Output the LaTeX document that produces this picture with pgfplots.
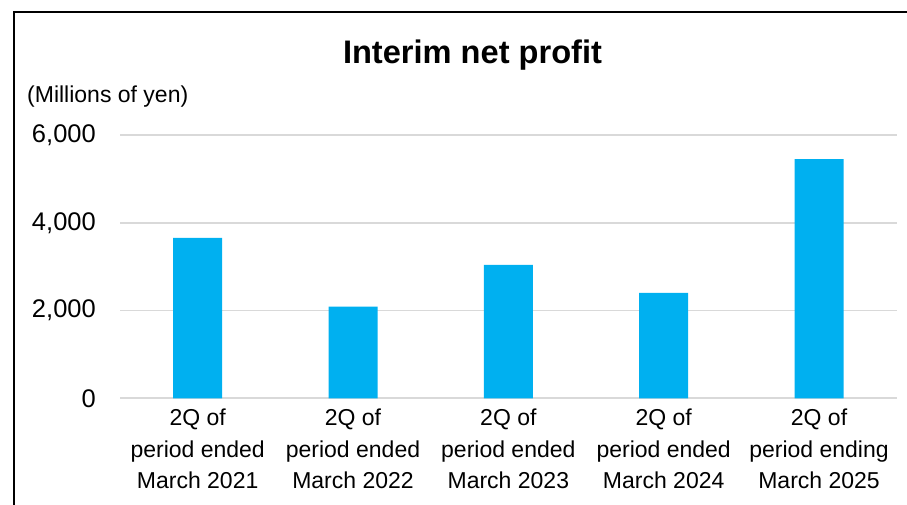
\documentclass[border=0pt]{standalone}
\usepackage{pgfplots}
\pgfplotsset{compat=1.18}
\usepackage{fontspec}
\setmainfont{Liberation Sans}
\definecolor{barblue}{HTML}{00B0F0}
\definecolor{gridgray}{HTML}{D9D9D9}
\begin{document}
\begin{tikzpicture}[x=1pt,y=1pt]
\useasboundingbox (0,0) rectangle (907,505);
\fill[white] (0,0) rectangle (907,505);
\begin{axis}[
  at={(120pt,106.7pt)}, anchor=south west,
  scale only axis, width=776.7pt, height=263.3pt,
  xmin=-0.5, xmax=4.5, ymin=0, ymax=6000,
  axis line style={draw=none},
  major tick length=0pt,
  ytick={0,2000,4000,6000},
  ymajorgrids, grid style={gridgray, line width=1.6pt},
  xtick={0,1,2,3,4},
  xticklabels={{2Q of\\period ended\\March 2021},{2Q of\\period ended\\March 2022},{2Q of\\period ended\\March 2023},{2Q of\\period ended\\March 2024},{2Q of\\period ending\\March 2025}},
  xticklabel style={align=center, font=\fontsize{23}{31.5}\selectfont, anchor=north, inner sep=0pt, yshift=-10.5pt},
  yticklabel style={font=\fontsize{25.5}{30}\selectfont, anchor=east, inner sep=0pt, xshift=-24pt},
  /pgf/number format/assume math mode=true,
  /pgf/number format/1000 sep={,},
  scaled y ticks=false,
  clip=false,
]
\addplot[ybar, bar width=49pt, fill=barblue, draw=none] coordinates {(0,3653) (1,2088) (2,3038) (3,2400) (4,5453)};
\end{axis}
\node[font=\fontsize{32.6}{38}\selectfont\bfseries] at (472.5,450) {Interim net profit};
\node[font=\fontsize{23}{28}\selectfont, anchor=west, inner sep=0pt] at (27,408) {(Millions of yen)};
\draw[line width=2pt] (14,0) -- (14,493) -- (907,493);
\end{tikzpicture}
\end{document}
